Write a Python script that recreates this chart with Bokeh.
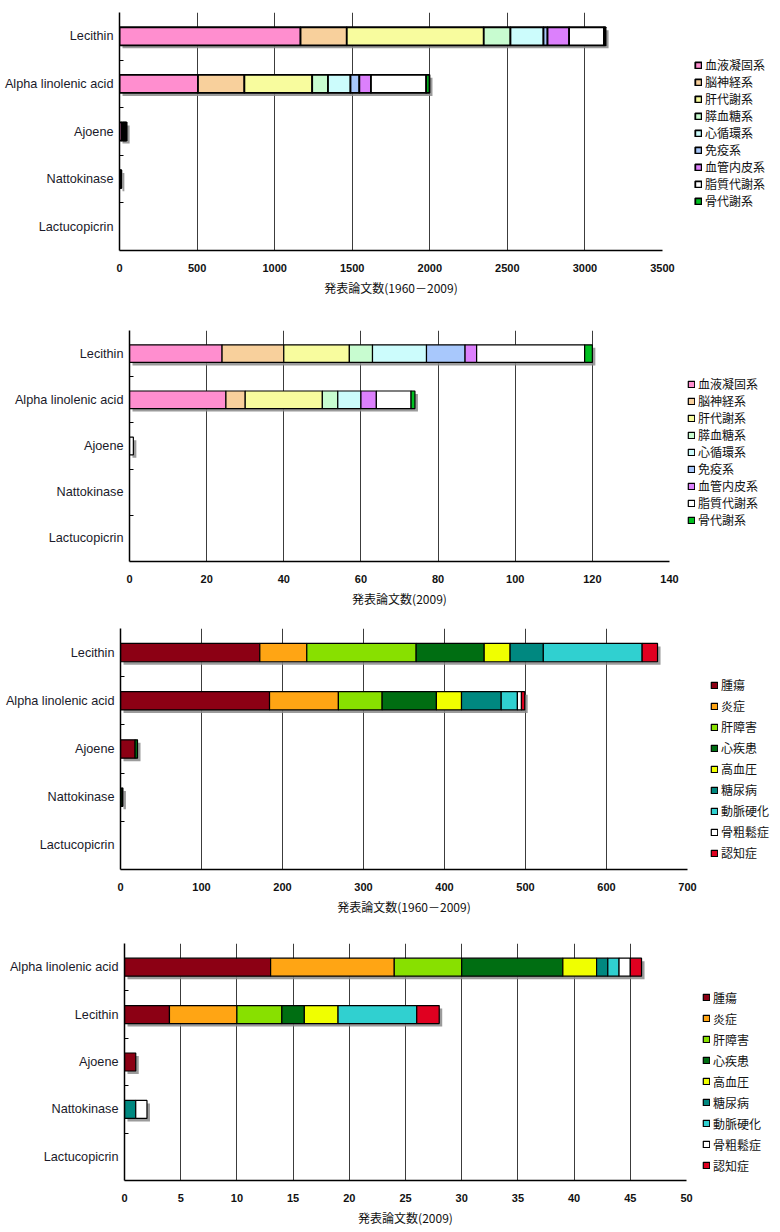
import numpy as np
from bokeh.plotting import figure
from bokeh.layouts import column, row
from bokeh.models import ColumnDataSource, FixedTicker, Range1d, Legend, LegendItem, Spacer
from bokeh.embed import file_html
from bokeh.resources import INLINE

# ---------------- data ----------------
systems = ["血液凝固系", "脳神経系", "肝代謝系", "膵血糖系", "心循環系",
           "免疫系", "血管内皮系", "脂質代謝系", "骨代謝系"]
system_colors = ["#FF8ECF", "#F8D09C", "#F8FC9E", "#C8FCD0", "#CCFCFC",
                 "#A8C8FC", "#DC80FC", "#FFFFFF", "#00C020"]

diseases = ["腫瘍", "炎症", "肝障害", "心疾患", "高血圧",
            "糖尿病", "動脈硬化", "骨粗鬆症", "認知症"]
disease_colors = ["#8C0014", "#FFA514", "#88E000", "#006E12", "#F0FF00",
                  "#008880", "#30D0D0", "#FFFFFF", "#E00020"]

cats_main = ["Lecithin", "Alpha linolenic acid", "Ajoene", "Nattokinase", "Lactucopicrin"]
cats_2009_disease = ["Alpha linolenic acid", "Lecithin", "Ajoene", "Nattokinase", "Lactucopicrin"]

# Chart 1: papers by system, 1960-2009
sys_all_lecithin = [1167, 298, 883, 172, 213, 26, 139, 225, 10]
sys_all_alpha = [506, 299, 437, 102, 145, 57, 75, 356, 21]
sys_all_ajoene = [15, 0, 10, 0, 8, 0, 5, 8, 0]
sys_all_natto = [8, 0, 0, 0, 4, 0, 0, 0, 0]
sys_all_lactu = [0, 0, 0, 0, 0, 0, 0, 0, 0]

# Chart 2: papers by system, 2009
sys_2009_lecithin = [24, 16, 17, 6, 14, 10, 3, 28, 2]
sys_2009_alpha = [25, 5, 20, 4, 6, 0, 4, 9, 1]
sys_2009_ajoene = [0, 0, 0, 0, 0, 0, 0, 1, 0]
sys_2009_natto = [0, 0, 0, 0, 0, 0, 0, 0, 0]
sys_2009_lactu = [0, 0, 0, 0, 0, 0, 0, 0, 0]

# Chart 3: papers by disease, 1960-2009
dis_all_lecithin = [172, 58, 135, 84, 32, 41, 122, 0, 19]
dis_all_alpha = [184, 85, 54, 67, 31, 49, 20, 5, 4]
dis_all_ajoene = [18, 0, 0, 3, 0, 0, 0, 0, 0]
dis_all_natto = [0, 0, 0, 2, 0, 0, 1, 0, 0]
dis_all_lactu = [0, 0, 0, 0, 0, 0, 0, 0, 0]

# Chart 4: papers by disease, 2009
dis_2009_alpha = [13, 11, 6, 9, 3, 1, 1, 1, 1]
dis_2009_lecithin = [4, 6, 4, 2, 3, 0, 7, 0, 2]
dis_2009_ajoene = [1, 0, 0, 0, 0, 0, 0, 0, 0]
dis_2009_natto = [0, 0, 0, 0, 0, 1, 0, 1, 0]
dis_2009_lactu = [0, 0, 0, 0, 0, 0, 0, 0, 0]

title_all = "発表論文数(1960－2009)"
title_2009 = "発表論文数(2009)"

JP = "Noto Sans CJK JP"
LAT = "Liberation Sans"
LEFT = 119


def make_chart(cats, rows, names, colors, xmax, step, title,
               fw, fh, top, bottom, lw, leg_dx, leg_pitch, leg_dy):
    n = len(cats)
    p = figure(frame_width=fw, frame_height=fh, min_border_left=LEFT,
               min_border_top=top, min_border_bottom=bottom, min_border_right=5,
               x_range=Range1d(0, xmax), y_range=Range1d(0, n),
               output_backend="svg", toolbar_location=None)
    p.outline_line_color = None
    p.background_fill_color = "white"
    p.ygrid.visible = False

    ycent = [n - 1 - i + 0.5 for i in range(n)]
    vals = np.array(rows, dtype=float)
    cum = np.cumsum(vals, axis=1)
    totals = cum[:, -1]

    # drop shadow behind each bar
    dx = 3.0 * xmax / fw
    dy = 3.0 * n / fh
    nz = totals > 0
    sh = ColumnDataSource(dict(y=[ycent[i] - dy for i in range(n) if nz[i]],
                               left=[dx] * int(nz.sum()),
                               right=[totals[i] + dx for i in range(n) if nz[i]]))
    p.hbar(y="y", left="left", right="right", height=0.38, source=sh,
           fill_color="#8a8a8a", fill_alpha=0.85, line_color=None)

    items = []
    for j, (nm, col) in enumerate(zip(names, colors)):
        ys, ls, rs = [], [], []
        for i in range(n):
            if vals[i, j] > 0:
                ys.append(ycent[i])
                ls.append(cum[i, j] - vals[i, j])
                rs.append(cum[i, j])
        src = ColumnDataSource(dict(y=ys, left=ls, right=rs))
        r = p.hbar(y="y", left="left", right="right", height=0.38, source=src,
                   fill_color=col, line_color="black", line_width=lw)
        items.append(LegendItem(label=nm, renderers=[r]))

    # x axis
    ticks = list(range(0, xmax + 1, step))
    p.xaxis.ticker = FixedTicker(ticks=ticks)
    p.xgrid.ticker = FixedTicker(ticks=ticks)
    p.xgrid.grid_line_color = "#3c3c3c"
    p.xgrid.grid_line_width = 1
    p.xaxis.major_tick_in = 0
    p.xaxis.major_tick_out = 0
    p.xaxis.minor_tick_line_color = None
    p.xaxis.axis_line_color = "black"
    p.xaxis.axis_line_width = 1.5
    p.xaxis.major_label_text_font = LAT
    p.xaxis.major_label_text_font_style = "bold"
    p.xaxis.major_label_text_font_size = "11px"
    p.xaxis.major_label_text_color = "#111111"
    p.xaxis.major_label_standoff = 13
    p.xaxis.axis_label = title
    p.xaxis.axis_label_text_font = JP
    p.xaxis.axis_label_text_font_style = "normal"
    p.xaxis.axis_label_text_font_size = "12px"
    p.xaxis.axis_label_text_color = "#111111"
    p.xaxis.axis_label_standoff = 4

    # y axis (categories)
    p.yaxis.ticker = FixedTicker(ticks=ycent, minor_ticks=list(range(1, n)))
    p.yaxis.major_label_overrides = {ycent[i]: cats[i] for i in range(n)}
    p.yaxis.major_tick_line_color = None
    p.yaxis.major_tick_in = 0
    p.yaxis.major_tick_out = 0
    p.yaxis.minor_tick_in = 4
    p.yaxis.minor_tick_out = 0
    p.yaxis.minor_tick_line_color = "black"
    p.yaxis.axis_line_color = "black"
    p.yaxis.axis_line_width = 1.5
    p.yaxis.major_label_text_font = LAT
    p.yaxis.major_label_text_font_size = "12.7px"
    p.yaxis.major_label_text_color = "#1a1a2a"
    p.yaxis.major_label_standoff = 6

    leg_h = len(names) * leg_pitch
    ly = (fh - leg_h) / 2.0 - leg_dy
    legend = Legend(items=items, location=(leg_dx, ly),
                    border_line_color=None, background_fill_alpha=0,
                    padding=0, margin=0, spacing=0,
                    glyph_width=8, glyph_height=8, label_height=leg_pitch,
                    label_standoff=3, label_text_font=JP,
                    label_text_font_size="12px", label_text_color="#111111")
    p.add_layout(legend, "right")
    return p


p1 = make_chart(cats_main,
                [sys_all_lecithin, sys_all_alpha, sys_all_ajoene, sys_all_natto, sys_all_lactu],
                systems, system_colors, 3500, 500, title_all,
                fw=543, fh=238, top=12, bottom=60, lw=1.8,
                leg_dx=32, leg_pitch=17, leg_dy=1.5)
p2 = make_chart(cats_main,
                [sys_2009_lecithin, sys_2009_alpha, sys_2009_ajoene, sys_2009_natto, sys_2009_lactu],
                systems, system_colors, 140, 20, title_2009,
                fw=540, fh=231, top=20, bottom=52, lw=1.2,
                leg_dx=18, leg_pitch=17, leg_dy=6)
p3 = make_chart(cats_main,
                [dis_all_lecithin, dis_all_alpha, dis_all_ajoene, dis_all_natto, dis_all_lactu],
                diseases, disease_colors, 700, 100, title_all,
                fw=567, fh=241, top=15, bottom=59, lw=1.2,
                leg_dx=23, leg_pitch=21, leg_dy=20)
p4 = make_chart(cats_2009_disease,
                [dis_2009_alpha, dis_2009_lecithin, dis_2009_ajoene, dis_2009_natto, dis_2009_lactu],
                diseases, disease_colors, 50, 5, title_2009,
                fw=562, fh=237, top=15, bottom=48, lw=1.2,
                leg_dx=16, leg_pitch=21, leg_dy=19.5)

# horizontal shift of each panel so its plot frame starts where the original does
shifts = [0, 10, 1, 5]
rows_layout = []
for s, p in zip(shifts, [p1, p2, p3, p4]):
    if s > 0:
        rows_layout.append(row(Spacer(width=s, height=1), p, spacing=0))
    else:
        rows_layout.append(row(p, spacing=0))

layout = column(*rows_layout, spacing=0)
open("out.html", "w").write(file_html(layout, INLINE))
